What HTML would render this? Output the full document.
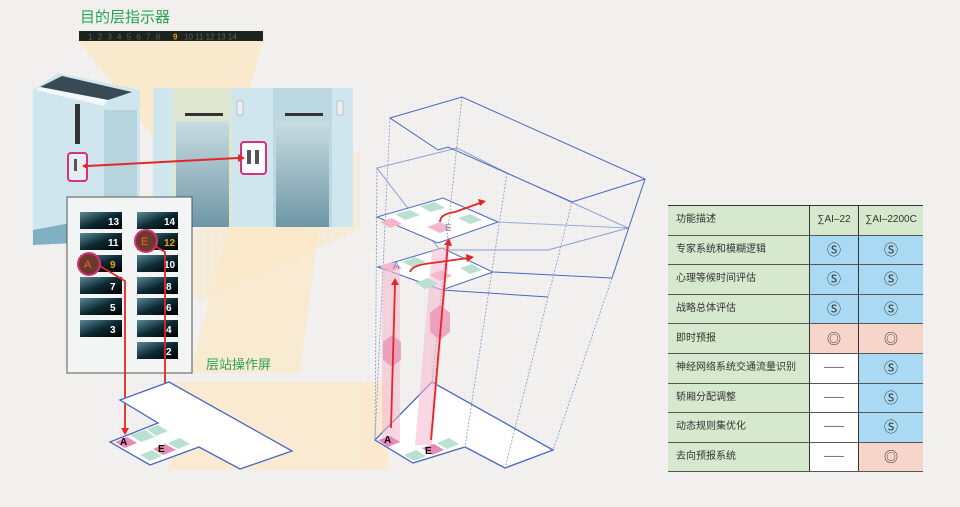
<!DOCTYPE html>
<html><head><meta charset="utf-8"><style>
body{margin:0;width:960px;height:507px;overflow:hidden;background:#f2f1ef;font-family:"Liberation Sans","Noto Sans CJK SC",sans-serif}
svg{position:absolute;left:0;top:0}
table{position:absolute;left:668px;top:205px;border-collapse:collapse;font-size:10px;color:#333;table-layout:fixed;width:255px}
td{height:28.6px;border-top:1.5px solid #555;padding:0;text-align:center;font-size:10px;overflow:hidden;white-space:nowrap;line-height:12px}
td.s{font-size:14px}
td.l{width:133px;background:#d6e8cd;text-align:left;padding-left:8px;border-right:1.5px solid #333}
td.m{width:48px;border-right:1.5px solid #333}
td.r{width:64px}
.b{background:#a9d9f3}.p{background:#f8d5ca}.w{background:#fff}.g{background:#d6e8cd}
</style></head><body>
<svg width="960" height="507" viewBox="0 0 960 507">
<defs>
<pattern id="grid" width="8" height="8" patternUnits="userSpaceOnUse"><path d="M8 0H0V8" fill="none" stroke="#e6e5e3" stroke-width="0.6"/></pattern>
<linearGradient id="btn" x1="0" y1="0" x2="1" y2="1"><stop offset="0" stop-color="#5a8a98"/><stop offset="0.5" stop-color="#0d2a33"/><stop offset="1" stop-color="#000"/></linearGradient>
<linearGradient id="door" x1="0" y1="0" x2="0" y2="1"><stop offset="0" stop-color="#c9dde2"/><stop offset="1" stop-color="#6e96a6"/></linearGradient>
</defs>
<rect width="960" height="507" fill="url(#grid)"/>
<polygon points="79,41 263,41 235,140 155,140" fill="#fbe8c4" opacity="0.8"/>
<polygon points="190,373 240,180 320,220 300,373" fill="#fbe8c4" opacity="0.7"/>
<rect x="170" y="382" width="210" height="88" fill="#fbe9cc" opacity="0.85"/>
<polygon points="140,260 360,150 360,230 200,300" fill="#fbe8c4" opacity="0.5"/>
<rect x="153" y="88" width="200" height="139" fill="#cfe6ee"/>
<rect x="173" y="88" width="59" height="139" fill="#dfe6cf"/>
<rect x="176" y="121" width="53" height="106" fill="url(#door)"/>
<rect x="185" y="113" width="38" height="3" fill="#333"/>
<rect x="273" y="88" width="59" height="139" fill="#bcd8e2"/>
<rect x="276" y="121" width="53" height="106" fill="url(#door)"/>
<rect x="285" y="113" width="38" height="3" fill="#333"/>
<rect x="237" y="101" width="6" height="14" fill="#eee" stroke="#999" stroke-width=".5"/>
<rect x="337" y="101" width="6" height="14" fill="#eee" stroke="#999" stroke-width=".5"/>
<rect x="241" y="142" width="25" height="32" rx="3" fill="#fff" stroke="#d4327f" stroke-width="2"/>
<rect x="247" y="150" width="4" height="14" fill="#555"/><rect x="255" y="150" width="4" height="14" fill="#555"/>
<polygon points="33,90 58,73 140,90 140,230 33,245" fill="#cfe6ee"/>
<polygon points="40,87 62,76 132,92 108,100" fill="#3a4a54"/>
<polygon points="36,90 40,87 108,100 104,106" fill="#f4f8fa"/>
<rect x="75" y="104" width="5" height="40" fill="#333"/>
<rect x="104" y="110" width="33" height="110" fill="#b6d4de"/>
<polygon points="33,230 140,210 140,240 33,245" fill="#7fb0c4"/>
<rect x="68" y="153" width="19" height="28" rx="3" fill="#e7eef0" stroke="#d4327f" stroke-width="2"/>
<rect x="74" y="159" width="3" height="12" fill="#555"/>
<rect x="79" y="31" width="184" height="10" fill="#1c2420"/>
<text x="88" y="39.5" font-size="8" fill="#56655f" letter-spacing="1.5">1 2 3 4 5 6 7 8 </text>
<text x="173" y="39.5" font-size="8" fill="#e8a21a" font-weight="bold">9</text>
<text x="184" y="39.5" font-size="8" fill="#56655f">10 11 12 13 14</text>
<text x="80" y="22" font-size="15" fill="#2aa355">目的层指示器</text>
<line x1="87" y1="166" x2="238" y2="158" stroke="#e52626" stroke-width="2"/>
<polygon points="238,154 245,158 238,162" fill="#e52626"/><polygon points="87,163 82,166 87,169" fill="#e52626"/>
<rect x="67" y="197" width="125" height="176" fill="#f3f5f5" stroke="#555" stroke-width="1"/>
<g font-size="10" fill="#fff" font-weight="bold">
<rect x="80" y="212" width="42" height="17" fill="url(#btn)"/><rect x="80" y="233" width="42" height="17" fill="url(#btn)"/><rect x="80" y="255" width="42" height="17" fill="url(#btn)"/><rect x="80" y="277" width="42" height="17" fill="url(#btn)"/><rect x="80" y="298" width="42" height="17" fill="url(#btn)"/><rect x="80" y="320" width="42" height="17" fill="url(#btn)"/>
<rect x="137" y="212" width="41" height="17" fill="url(#btn)"/><rect x="137" y="233" width="41" height="17" fill="url(#btn)"/><rect x="137" y="255" width="41" height="17" fill="url(#btn)"/><rect x="137" y="277" width="41" height="17" fill="url(#btn)"/><rect x="137" y="298" width="41" height="17" fill="url(#btn)"/><rect x="137" y="320" width="41" height="17" fill="url(#btn)"/><rect x="137" y="342" width="41" height="17" fill="url(#btn)"/>
<text x="108" y="225">13</text><text x="108" y="246">11</text><text x="110" y="268" fill="#e8a21a">9</text><text x="110" y="290">7</text><text x="110" y="311">5</text><text x="110" y="333">3</text>
<text x="164" y="225">14</text><text x="164" y="246" fill="#e8a21a">12</text><text x="164" y="268">10</text><text x="166" y="290">8</text><text x="166" y="311">6</text><text x="166" y="333">4</text><text x="166" y="355">2</text>
</g>
<circle cx="89" cy="264" r="11" fill="#6b3a2a" stroke="#d4327f" stroke-width="2"/><text x="84" y="268" font-size="11" fill="#e06a2a">A</text>
<circle cx="146" cy="241" r="11" fill="#6b3a2a" stroke="#d4327f" stroke-width="2"/><text x="141" y="245" font-size="11" fill="#e06a2a">E</text>
<polyline points="100,266 125,281 125,430" fill="none" stroke="#e52626" stroke-width="1.8"/>
<polygon points="121,428 129,428 125,435" fill="#e52626"/>
<polyline points="155,246 165,252 165,440" fill="none" stroke="#e52626" stroke-width="1.8"/>
<polygon points="161,438 169,438 165,445" fill="#e52626"/>
<text x="206" y="369" font-size="13" fill="#2aa355">层站操作屏</text>
<polygon points="120,400 169,382 292,451 240,469 199,447 150,465 110,442 158,423" fill="#fff" stroke="#4a68c0" stroke-width="1.3"/>
<polygon points="115,442 127,437 137,443 125,448" fill="#e58ab5"/>
<polygon points="130,435 145,430 155,437 141,442" fill="#b9e0d0"/>
<polygon points="147,429 158,425 168,431 156,436" fill="#b9e0d0"/>
<polygon points="140,455 152,450 162,456 150,461" fill="#b9e0d0"/>
<polygon points="153,449 165,444 176,450 163,455" fill="#e58ab5"/>
<polygon points="168,443 180,438 190,444 178,449" fill="#b9e0d0"/>
<text x="120" y="445" font-size="10" font-weight="bold">A</text><text x="158" y="452" font-size="10" font-weight="bold">E</text>
<rect x="360" y="382" width="28" height="88" fill="#fbe9cc" opacity="0.9"/>
<g fill="none" stroke="#4a68c0" stroke-width="1">
<polygon points="390,118 462,97 645,179 572,202 448,147 438,150"/>
<polygon points="377,168 457,148 507,173 628,228 548,250 440,250" stroke-opacity=".6"/>
<line x1="645" y1="179" x2="612" y2="278"/>
<polygon points="377,217 443,198 498,222 438,243" fill="#fff"/>
<polygon points="378,267 442,248 493,272 442,290" fill="#fff"/>
<line x1="498" y1="222" x2="628" y2="228" stroke-opacity=".5"/>
<line x1="493" y1="272" x2="612" y2="278"/><line x1="442" y1="290" x2="548" y2="297"/>
<polygon points="375,440 432,382 553,450 505,468 465,447 413,463" fill="#fff" stroke-width="1.3"/>
</g>
<g fill="none" stroke="#8294cf" stroke-width=".8" stroke-dasharray="2,1.5">
<line x1="390" y1="118" x2="375" y2="440"/><line x1="462" y1="97" x2="432" y2="382"/>
<line x1="612" y1="278" x2="553" y2="450"/><line x1="572" y1="202" x2="505" y2="468"/>
<line x1="377" y1="168" x2="375" y2="440"/><line x1="507" y1="173" x2="465" y2="447"/>
</g>
<rect x="382" y="265" width="18" height="178" fill="#f4b6cd" opacity=".55"/>
<polygon points="432,250 450,245 432,445 415,445" fill="#f4b6cd" opacity=".55"/>
<polygon points="383,342 392,335 401,342 401,360 392,367 383,360" fill="#e98db3" opacity=".7"/>
<polygon points="430,313 440,305 450,313 450,332 440,340 430,332" fill="#e98db3" opacity=".7"/>
<polygon points="380,222 392,218 402,224 390,228" fill="#f4b6cd"/>
<polygon points="427,227 440,222 452,228 440,233" fill="#f4b6cd"/>
<polygon points="395,214 410,210 420,215 405,220" fill="#b9e0d0"/>
<polygon points="420,206 435,202 445,208 430,212" fill="#b9e0d0"/>
<polygon points="458,218 470,214 482,220 470,224" fill="#b9e0d0"/>
<polygon points="380,266 392,262 402,268 390,272" fill="#f4b6cd"/>
<polygon points="430,275 442,270 452,276 440,281" fill="#f4b6cd"/>
<polygon points="402,262 415,257 426,262 413,267" fill="#b9e0d0"/>
<polygon points="460,268 472,264 482,270 470,274" fill="#b9e0d0"/>
<polygon points="415,283 428,278 438,284 425,289" fill="#b9e0d0"/>
<polygon points="378,440 390,436 400,442 388,447" fill="#e58ab5"/>
<polygon points="422,448 434,444 444,450 432,455" fill="#e58ab5"/>
<polygon points="404,455 416,450 426,456 414,461" fill="#b9e0d0"/>
<polygon points="437,443 449,438 459,444 447,449" fill="#b9e0d0"/>
<text x="445" y="231" font-size="10" fill="#7a8fb8">E</text><text x="393" y="269" font-size="10" fill="#7a8fb8">A</text>
<g stroke="#e52626" stroke-width="1.8" fill="none">
<line x1="391" y1="428" x2="395" y2="284"/>
<line x1="431" y1="440" x2="448" y2="243"/>
<path d="M410,272 Q412,266 425,264 L468,258"/>
<path d="M440,222 Q440,214 455,212 L480,203"/>
</g>
<polygon points="391,285 395,278 399,285" fill="#e52626"/>
<polygon points="444,245 449,238 452,246" fill="#e52626"/>
<polygon points="466,254 474,257 467,262" fill="#e52626"/>
<polygon points="478,199 486,201 480,206" fill="#e52626"/>
<text x="384" y="443" font-size="10" font-weight="bold">A</text><text x="425" y="454" font-size="10" font-weight="bold">E</text>
</svg>
<table>
<tr><td class="l" style="border-top:1.5px solid #333">功能描述</td><td class="m g" style="border-top:1.5px solid #333">∑AI–22</td><td class="r g" style="border-top:1.5px solid #333">∑AI–2200C</td></tr>
<tr><td class="l">专家系统和模糊逻辑</td><td class="m b s">Ⓢ</td><td class="r b s">Ⓢ</td></tr>
<tr><td class="l">心理等候时间评估</td><td class="m b s">Ⓢ</td><td class="r b s">Ⓢ</td></tr>
<tr><td class="l">战略总体评估</td><td class="m b s">Ⓢ</td><td class="r b s">Ⓢ</td></tr>
<tr><td class="l">即时预报</td><td class="m p s">◎</td><td class="r p s">◎</td></tr>
<tr><td class="l">神经网络系统交通流量识别</td><td class="m w">——</td><td class="r b s">Ⓢ</td></tr>
<tr><td class="l">轿厢分配调整</td><td class="m w">——</td><td class="r b s">Ⓢ</td></tr>
<tr><td class="l">动态规则集优化</td><td class="m w">——</td><td class="r b s">Ⓢ</td></tr>
<tr><td class="l" style="border-bottom:1.5px solid #555">去向预报系统</td><td class="m w" style="border-bottom:1.5px solid #555">——</td><td class="r p s" style="border-bottom:1.5px solid #555">◎</td></tr>
</table>
</body></html>
